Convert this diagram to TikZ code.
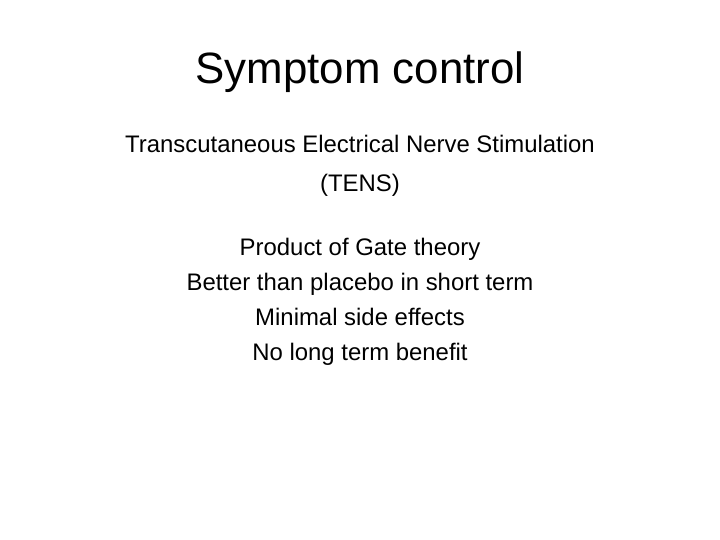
\documentclass[tikz,border=0pt]{standalone}
\usepackage{fontspec}
\setmainfont{Liberation Sans}
\begin{document}
\begin{tikzpicture}[x=1bp,y=1bp,
  title/.style={font=\fontsize{44}{52}\selectfont,anchor=base,inner sep=0},
  body/.style={font=\fontsize{24}{28}\selectfont,anchor=base,inner sep=0}]
\useasboundingbox[fill=white] (0,0) rectangle (720,540);
\node[title] (t) at (360,540-84) {Symptom control};
\node[body] (a) at (360,540-153) {Transcutaneous Electrical Nerve Stimulation};
\node[body] (b) at (360,540-192) {(TENS)};
\node[body] (c) at (360,540-256) {Product of Gate theory};
\node[body] (d) at (360,540-291) {Better than placebo in short term};
\node[body] (e) at (360,540-326) {Minimal side effects};
\node[body] (f) at (360,540-361) {No long term benefit};
\end{tikzpicture}
\end{document}
